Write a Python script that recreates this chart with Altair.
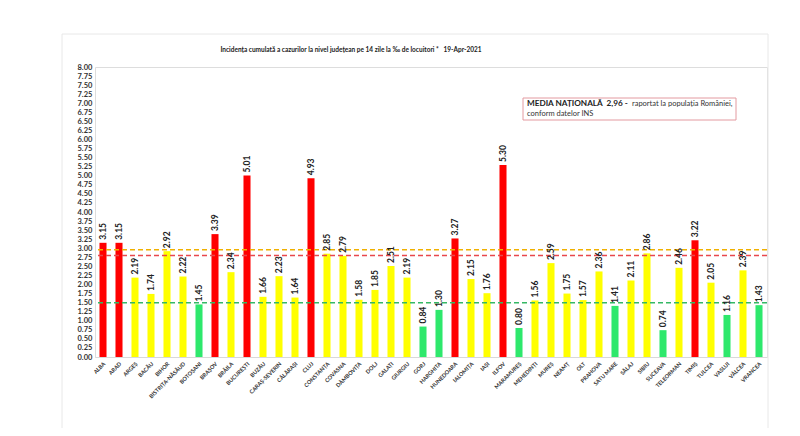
import altair as alt
import pandas as pd

counties = ["ALBA", "ARAD", "ARGEȘ", "BACĂU", "BIHOR", "BISTRIȚA-NĂSĂUD", "BOTOȘANI",
            "BRAȘOV", "BRĂILA", "BUCUREȘTI", "BUZĂU", "CARAȘ-SEVERIN", "CĂLĂRAȘI", "CLUJ",
            "CONSTANȚA", "COVASNA", "DÂMBOVIȚA", "DOLJ", "GALAȚI", "GIURGIU", "GORJ",
            "HARGHITA", "HUNEDOARA", "IALOMIȚA", "IAȘI", "ILFOV", "MARAMUREȘ", "MEHEDINȚI",
            "MUREȘ", "NEAMȚ", "OLT", "PRAHOVA", "SATU MARE", "SĂLAJ", "SIBIU", "SUCEAVA",
            "TELEORMAN", "TIMIȘ", "TULCEA", "VASLUI", "VÂLCEA", "VRANCEA"]
values = [3.15, 3.15, 2.19, 1.74, 2.92, 2.22, 1.45, 3.39, 2.34, 5.01, 1.66, 2.23, 1.64, 4.93,
          2.85, 2.79, 1.58, 1.85, 2.51, 2.19, 0.84, 1.30, 3.27, 2.15, 1.76, 5.30, 0.80, 1.56,
          2.59, 1.75, 1.57, 2.36, 1.41, 2.11, 2.86, 0.74, 2.46, 3.22, 2.05, 1.16, 2.39, 1.43]
scenario = ["red", "red", "yellow", "yellow", "yellow", "yellow", "green", "red", "yellow", "red",
            "yellow", "yellow", "yellow", "red", "yellow", "yellow", "yellow", "yellow", "yellow",
            "yellow", "green", "green", "red", "yellow", "yellow", "red", "green", "yellow",
            "yellow", "yellow", "yellow", "yellow", "green", "yellow", "yellow", "green",
            "yellow", "red", "yellow", "green", "yellow", "green"]

ref_levels = [2.96, 2.8, 1.5]
ref_names = ["media", "prag rosu", "prag verde"]
ref_colors = ["#f0b000", "#e8474c", "#35b865"]

y_ticks = [i * 0.25 for i in range(33)]

title_text = "Incidența cumulată a cazurilor la nivel județean pe 14 zile la ‰ de locuitori *\u00a0\u00a0\u00a019-Apr-2021"
note_bold = "MEDIA NAȚIONALĂ\u00a0\u00a02,96 -"
note_rest = "raportat la populația României,"
note_line2 = "conform datelor INS"

df = pd.DataFrame({"judet": counties, "val": values, "sc": scenario})
df["label"] = df["val"].map(lambda v: f"{v:.2f}")
refs = pd.DataFrame({"lvl": ref_levels, "name": ref_names})

FONT = "Lato"

yscale = alt.Scale(domain=[0, 8], nice=False)
xscale = alt.Scale(paddingInner=0.56, paddingOuter=0.28)
xaxis = alt.Axis(title=None, labelAngle=-45, labelFontSize=5.5, labelFont=FONT,
                 labelFontWeight="bold", labelColor="#333333", ticks=False,
                 domainColor="#d9d9d9", labelPadding=4, labelOverlap=False)
yaxis = alt.Axis(title=None, values=y_ticks, format=".2f", grid=False, domain=False,
                 ticks=False, tickSize=0, labelAlign="left", labelPadding=18,
                 labelOverlap=False, labelFontSize=7.5, labelFont=FONT,
                 labelFontWeight="bold", labelColor="#333333")

bars = alt.Chart(df).mark_bar().encode(
    x=alt.X("judet:N", sort=counties, scale=xscale, axis=xaxis),
    y=alt.Y("val:Q", scale=yscale, axis=yaxis),
    color=alt.Color("sc:N", scale=alt.Scale(domain=["red", "yellow", "green"],
                                            range=["#ff0000", "#ffff00", "#2ee86c"]),
                    legend=None),
)

labels = alt.Chart(df).mark_text(angle=270, align="left", baseline="middle", dx=3,
                                 fontSize=8.5, font=FONT, fontWeight="bold",
                                 color="#222222").encode(
    x=alt.X("judet:N", sort=counties, scale=xscale, axis=xaxis),
    y=alt.Y("val:Q", scale=yscale, axis=yaxis),
    text="label:N",
)

rules = alt.Chart(refs).mark_rule(strokeDash=[5, 3], strokeWidth=1.5).encode(
    y=alt.Y("lvl:Q", scale=yscale, axis=yaxis),
    color=alt.Color("name:N", scale=alt.Scale(domain=ref_names, range=ref_colors), legend=None),
)

one = alt.Data(values=[{"k": 1}])

frame = alt.Chart(one).mark_rect(fill=None, stroke="#e8e8e8", strokeWidth=1).encode(
    x=alt.value(-33), x2=alt.value(673), y=alt.value(-33), y2=alt.value(363))

title = alt.Chart(one).mark_text(align="center", baseline="middle", fontSize=6.5, font=FONT,
                                 fontWeight="bold", color="#222222").encode(
    x=alt.value(256), y=alt.value(-17), text=alt.value(title_text))

box = alt.Chart(one).mark_rect(fill="white", stroke="#e39aa0", strokeWidth=1).encode(
    x=alt.value(428), x2=alt.value(641), y=alt.value(31), y2=alt.value(53))

t1 = alt.Chart(one).mark_text(align="left", baseline="middle", fontSize=8.2, font=FONT,
                              fontWeight="bold", color="#222222").encode(
    x=alt.value(432), y=alt.value(37), text=alt.value(note_bold))
t2 = alt.Chart(one).mark_text(align="left", baseline="middle", fontSize=7.5, font=FONT,
                              color="#333333").encode(
    x=alt.value(537), y=alt.value(37), text=alt.value(note_rest))
t3 = alt.Chart(one).mark_text(align="left", baseline="middle", fontSize=7.5, font=FONT,
                              color="#333333").encode(
    x=alt.value(432), y=alt.value(47), text=alt.value(note_line2))

chart = alt.layer(frame, bars, rules, labels, title, box, t1, t2, t3).resolve_scale(
    color="independent"
).properties(
    width=672, height=290,
    autosize=alt.AutoSizeParams(type="none"),
    padding={"left": 87, "top": 59, "right": 25, "bottom": 71},
).configure_view(stroke=None).configure(background="white")

chart.save("out.html", embed_options={"renderer": "svg", "actions": False})
